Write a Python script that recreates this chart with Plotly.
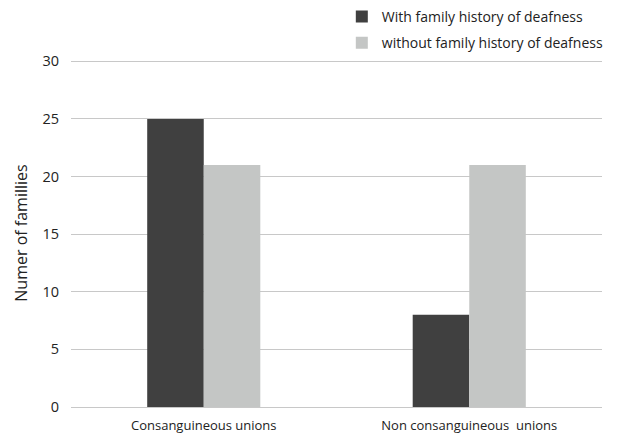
import plotly.graph_objects as go

categories = ["Consanguineous unions", "Non consanguineous  unions"]
with_history = [25, 8]
without_history = [21, 21]
series_names = ["With family history of deafness", "without family history of deafness"]
y_ticks = [0, 5, 10, 15, 20, 25, 30]

fig = go.Figure()
fig.add_trace(go.Bar(x=categories, y=with_history, name=series_names[0],
                     marker=dict(color="#404040", line=dict(width=0)), legendgroup="a"))
fig.add_trace(go.Bar(x=categories, y=without_history, name=series_names[1],
                     marker=dict(color="#c4c6c5", line=dict(width=0)), legendgroup="b"))

font_family = "'Open Sans', sans-serif"
fig.update_layout(
    width=629, height=438,
    margin=dict(l=71, r=27, t=59, b=31, autoexpand=False),
    plot_bgcolor="white", paper_bgcolor="white",
    barmode="group", bargap=0.574, bargroupgap=0,
    font=dict(family=font_family, size=13, color="#222222"),
    legend=dict(x=0.51, y=0.998, xref="paper", yref="container",
                xanchor="left", yanchor="top",
                font=dict(size=14, color="#222222"), tracegroupgap=5,
                bgcolor="rgba(0,0,0,0)", itemwidth=30),
    showlegend=True,
)
fig.update_xaxes(showline=True, linecolor="#c8c8c8", linewidth=1,
                 ticks="outside", ticklen=6, tickcolor="rgba(0,0,0,0)",
                 tickfont=dict(size=13))
fig.update_yaxes(range=[0, 30.2], tickvals=y_ticks, showgrid=True, gridcolor="#c8c8c8",
                 zeroline=False, ticks="outside", ticklen=8, tickcolor="rgba(0,0,0,0)",
                 tickfont=dict(size=14.5),
                 title=dict(text="Numer of famillies", font=dict(size=16), standoff=10))

fig.write_html("out.html")
